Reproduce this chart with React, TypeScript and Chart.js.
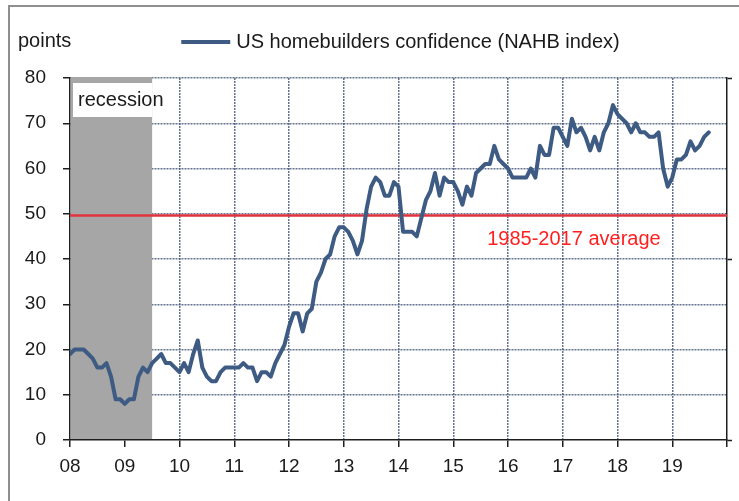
import React, { useEffect, useRef } from 'react';
import { Chart, registerables } from 'chart.js';

Chart.register(...registerables);

// ---------- data ----------
const START_YEAR = 2008;
const END_YEAR = 2020;

// NAHB housing market index, monthly, Jan 2008 - Sep 2019
const nahb2008 = [19, 20, 20, 20, 19, 18, 16, 16, 17, 14, 9, 9];
const nahb2009 = [8, 9, 9, 14, 16, 15, 17, 18, 19, 17, 17, 16];
const nahb2010 = [15, 17, 15, 19, 22, 16, 14, 13, 13, 15, 16, 16];
const nahb2011 = [16, 16, 17, 16, 16, 13, 15, 15, 14, 17, 19, 21];
const nahb2012 = [25, 28, 28, 24, 28, 29, 35, 37, 40, 41, 45, 47];
const nahb2013 = [47, 46, 44, 41, 44, 51, 56, 58, 57, 54, 54, 57];
const nahb2014 = [56, 46, 46, 46, 45, 49, 53, 55, 59, 54, 58, 57];
const nahb2015 = [57, 55, 52, 56, 54, 59, 60, 61, 61, 65, 62, 61];
const nahb2016 = [60, 58, 58, 58, 58, 60, 58, 65, 63, 63, 69, 69];
const nahb2017 = [67, 65, 71, 68, 69, 67, 64, 67, 64, 68, 70, 74];
const nahb2018 = [72, 71, 70, 68, 70, 68, 68, 67, 67, 68, 60, 56];
const nahb2019 = [58, 62, 62, 63, 66, 64, 65, 67, 68];

const nahbIndex = [
  ...nahb2008, ...nahb2009, ...nahb2010, ...nahb2011, ...nahb2012, ...nahb2013,
  ...nahb2014, ...nahb2015, ...nahb2016, ...nahb2017, ...nahb2018, ...nahb2019,
];

const xTickLabels = ['08', '09', '10', '11', '12', '13', '14', '15', '16', '17', '18', '19', ''];
const Y_MIN = 0;
const Y_MAX = 80;
const Y_STEP = 10;

const AVERAGE_VALUE = 49.6;
const AVERAGE_LABEL = '1985-2017 average';
const AVERAGE_LABEL_X = 2015.62;
const RECESSION_START = 2008;
const RECESSION_END = 2009.5;
const RECESSION_LABEL = 'recession';
const SERIES_LABEL = 'US homebuilders confidence (NAHB index)';
const UNIT_LABEL = 'points';

// ---------- styles ----------
const FONT_FAMILY = '"Liberation Sans", Arial, Helvetica, sans-serif';
const TICK_FONT_SIZE = 19;
const TEXT_FONT_SIZE = 20;
const LINE_COLOR = '#3e5b84';
const AVG_COLOR = '#e2323c';
const AVG_TEXT_COLOR = '#ff1f1f';
const GRID_COLOR = 'rgba(62, 80, 115, 0.8)';
const AXIS_COLOR = '#1e1e1e';
const TEXT_COLOR = '#1a1a1a';
const RECESSION_COLOR = '#a6a6a6';

const decorations = {
  id: 'decorations',
  beforeDatasetsDraw(chart: any) {
    const { ctx, chartArea, scales } = chart;
    const x = scales.x;
    const x0 = x.getPixelForValue(RECESSION_START) + 1;
    const x1 = x.getPixelForValue(RECESSION_END);
    ctx.save();
    ctx.fillStyle = RECESSION_COLOR;
    ctx.fillRect(x0, chartArea.top - 1, x1 - x0, chartArea.bottom - chartArea.top);
    ctx.fillStyle = '#ffffff';
    ctx.fillRect(x0 + 2, chartArea.top + 5, x1 - x0 - 2, 34);
    ctx.fillStyle = TEXT_COLOR;
    ctx.font = `${TEXT_FONT_SIZE}px ${FONT_FAMILY}`;
    ctx.textAlign = 'left';
    ctx.textBaseline = 'middle';
    ctx.fillText(RECESSION_LABEL, x0 + 7, chartArea.top + 22);
    ctx.restore();
  },
  afterDatasetsDraw(chart: any) {
    const { ctx, scales, chartArea } = chart;
    ctx.save();
    ctx.font = `${TEXT_FONT_SIZE}px ${FONT_FAMILY}`;
    ctx.textAlign = 'left';
    ctx.textBaseline = 'middle';
    // average label
    ctx.fillStyle = AVG_TEXT_COLOR;
    ctx.fillText(
      AVERAGE_LABEL,
      scales.x.getPixelForValue(AVERAGE_LABEL_X),
      scales.y.getPixelForValue(AVERAGE_VALUE) + 24,
    );
    // unit label
    ctx.fillStyle = TEXT_COLOR;
    ctx.fillText(UNIT_LABEL, 18, 41);
    // legend (line sample + text), centred over the plot area
    const textW = ctx.measureText(SERIES_LABEL).width;
    const sampleW = 49;
    const gap = 6;
    const total = sampleW + gap + textW;
    const cx = (chartArea.left + chartArea.right) / 2 + 2;
    const lx = cx - total / 2;
    const ly = 42;
    ctx.strokeStyle = LINE_COLOR;
    ctx.lineWidth = 4;
    ctx.lineCap = 'butt';
    ctx.beginPath();
    ctx.moveTo(lx, ly);
    ctx.lineTo(lx + sampleW, ly);
    ctx.stroke();
    ctx.fillStyle = TEXT_COLOR;
    ctx.fillText(SERIES_LABEL, lx + sampleW + gap, ly);
    ctx.restore();
  },
};

export default function App() {
  const canvasRef = useRef<HTMLCanvasElement | null>(null);

  useEffect(() => {
    if (!canvasRef.current) return;
    Chart.defaults.font.family = FONT_FAMILY;
    Chart.defaults.font.size = TICK_FONT_SIZE;
    Chart.defaults.color = TEXT_COLOR;

    const seriesPoints = nahbIndex.map((v, i) => ({ x: START_YEAR + i / 12, y: v }));
    const averagePoints = [
      { x: START_YEAR, y: AVERAGE_VALUE },
      { x: END_YEAR, y: AVERAGE_VALUE },
    ];

    const isEdge = (c: any, edges: number[]) =>
      c.tick && edges.some((e) => Math.abs(c.tick.value - e) < 1e-6);

    const gridFor = (edges: number[]) => ({
      color: (c: any) => (isEdge(c, edges) ? 'rgba(0,0,0,0)' : GRID_COLOR),
      lineWidth: 1.5,
      tickLength: 7,
      tickColor: AXIS_COLOR,
      tickWidth: 1.5,
      tickBorderDash: [],
      borderDash: [2, 1],
    });

    const chart = new Chart(canvasRef.current, {
      type: 'line',
      data: {
        datasets: [
          {
            label: SERIES_LABEL,
            data: seriesPoints,
            borderColor: LINE_COLOR,
            backgroundColor: LINE_COLOR,
            borderWidth: 4,
            pointRadius: 0,
            tension: 0,
            borderJoinStyle: 'round',
            borderCapStyle: 'round',
          },
          {
            label: AVERAGE_LABEL,
            data: averagePoints,
            borderColor: AVG_COLOR,
            backgroundColor: AVG_COLOR,
            borderWidth: 2.5,
            pointRadius: 0,
          },
        ],
      },
      options: {
        animation: false,
        responsive: false,
        maintainAspectRatio: false,
        parsing: false,
        layout: { padding: { top: 78, left: 0, right: 0, bottom: 0 } },
        plugins: {
          legend: { display: false },
          tooltip: { enabled: false },
        },
        scales: {
          x: {
            type: 'linear',
            min: START_YEAR,
            max: END_YEAR,
            ticks: {
              stepSize: 1,
              autoSkip: false,
              maxRotation: 0,
              padding: 8,
              color: TEXT_COLOR,
              callback: (v: any) => xTickLabels[Math.round(Number(v) - START_YEAR)] ?? '',
            },
            grid: gridFor([START_YEAR, END_YEAR]),
            border: { color: AXIS_COLOR, width: 1.5, dash: [2, 1] },
            afterFit: (s: any) => {
              s.height = 61;
            },
          },
          y: {
            min: Y_MIN,
            max: Y_MAX,
            ticks: { stepSize: Y_STEP, padding: 17, color: TEXT_COLOR },
            grid: gridFor([Y_MIN]),
            border: { color: AXIS_COLOR, width: 1.5, dash: [2, 1] },
            afterFit: (s: any) => {
              s.width = 70;
            },
          },
          y2: {
            position: 'right',
            min: Y_MIN,
            max: Y_MAX,
            ticks: { stepSize: 40, padding: 0, callback: () => '' },
            grid: { drawOnChartArea: false, tickLength: 5, tickColor: AXIS_COLOR, tickWidth: 1.5 },
            border: { color: AXIS_COLOR, width: 1.5 },
            afterFit: (s: any) => {
              s.width = 12;
            },
          },
        },
      } as any,
      plugins: [decorations],
    });

    return () => chart.destroy();
  }, []);

  return (
    <div style={{ position: 'absolute', left: 0, top: 0, width: 739, height: 501, background: '#ffffff' }}>
      <div
        style={{
          position: 'absolute',
          left: 8,
          top: 5,
          width: 731,
          height: 496,
          borderTop: '2px solid #8f8f8f',
          borderLeft: '2px solid #8f8f8f',
          boxSizing: 'border-box',
        }}
      />
      <canvas
        ref={canvasRef}
        width={739}
        height={501}
        style={{ position: 'absolute', left: 0, top: 0, width: 739, height: 501 }}
      />
    </div>
  );
}
